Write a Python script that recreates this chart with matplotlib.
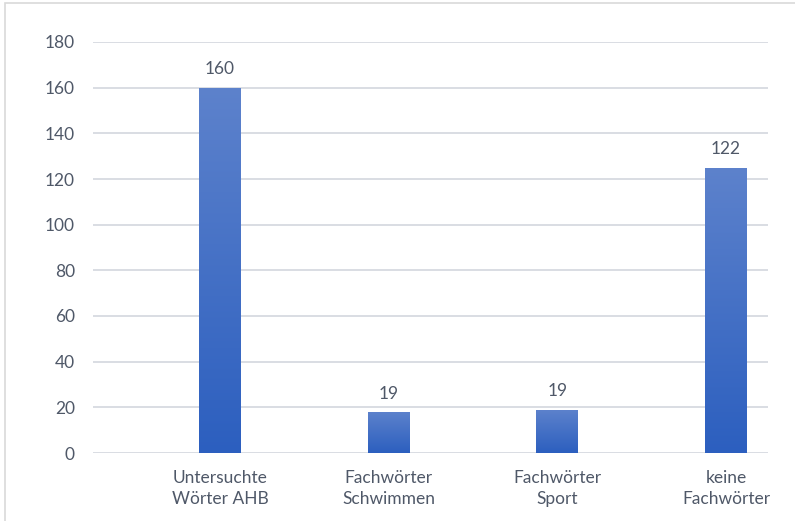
import numpy as np
import matplotlib.pyplot as plt
from matplotlib.patches import Rectangle
from matplotlib.colors import LinearSegmentedColormap

categories = ['Untersuchte\nWörter AHB', 'Fachwörter\nSchwimmen', 'Fachwörter\nSport', 'keine\nFachwörter']
values = [160, 18, 19, 125]          # bar heights as drawn
value_labels = ['160', '19', '19', '122']  # labels as printed
yticks = [0, 20, 40, 60, 80, 100, 120, 140, 160, 180]

plt.rcParams['font.family'] = ['Lato', 'DejaVu Sans']
txt = '#4f5868'

fig = plt.figure(figsize=(7.95, 5.21), dpi=100)
# light frame around the chart
fig.patches.append(Rectangle((5/795, -0.05), 1.0, 1 - 3/521 + 0.05, transform=fig.transFigure,
                             fill=False, edgecolor='#d9d9d9', linewidth=1.2))

ax = fig.add_axes([93/795, 1 - 453/521, 675/795, 411/521])
ax.set_xlim(-0.753, 3.249)
ax.set_ylim(0, 180)

for y in yticks:
    ax.axhline(y, color='#d9dde3', linewidth=1.4, zorder=0)

cmap = LinearSegmentedColormap.from_list('bar', ['#2c5fbf', '#5d82cc'])
grad = np.linspace(0, 1, 256).reshape(-1, 1)
w = 0.249
for i, v in enumerate(values):
    bar = ax.bar(i, v, width=w, color='none', edgecolor='none', zorder=2)[0]
    im = ax.imshow(grad, cmap=cmap, origin='lower', aspect='auto',
                   extent=[i - w/2, i + w/2, 0, v], zorder=2)
    im.set_clip_path(bar)
    ax.text(i, v + 4.5, value_labels[i], ha='center', va='bottom', fontsize=12.5, color=txt)

ax.set_xticks(range(len(categories)))
ax.set_xticklabels(categories, fontsize=12.5, color=txt, linespacing=1.4)
ax.set_yticks(yticks)
ax.tick_params(axis='y', labelsize=12.5, labelcolor=txt, length=0, pad=13)
ax.tick_params(axis='x', length=0, pad=12)
for s in ax.spines.values():
    s.set_visible(False)

fig.savefig('out.png', dpi=100)
